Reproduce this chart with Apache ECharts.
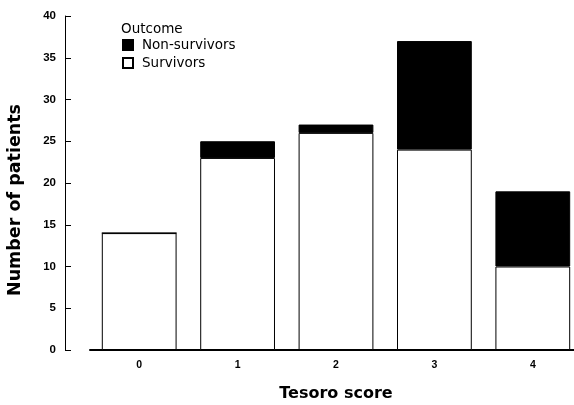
<!DOCTYPE html>
<html><head><meta charset="utf-8">
<script src="https://cdn.jsdelivr.net/npm/echarts@6/dist/echarts.min.js"></script>
<style>html,body{margin:0;padding:0;background:#fff}#c{width:574px;height:405px}</style>
</head><body><div id="c"></div>
<script>
const categories = ['0', '1', '2', '3', '4'];
const survivors = [14, 23, 26, 24, 10];
const nonSurvivors = [0, 2, 1, 13, 9];
const yTicks = { min: 0, max: 40, interval: 5 };

const chart = echarts.init(document.getElementById('c'), null, { renderer: 'canvas' });
const font = '"Liberation Sans", Arial, sans-serif';
const wide = '"DejaVu Sans", sans-serif';
chart.setOption({
  animation: false,
  backgroundColor: '#fff',
  textStyle: { fontFamily: font },
  title: {
    text: 'Outcome', left: 121, top: 22, padding: 0,
    textStyle: { fontFamily: wide, fontSize: 13.5, fontWeight: 'normal', color: '#000' }
  },
  legend: {
    orient: 'vertical', left: 122, top: 38, padding: 0,
    itemWidth: 10, itemHeight: 10, itemGap: 4,
    icon: 'rect',
    data: ['Non-survivors', 'Survivors'],
    textStyle: { fontFamily: wide, fontSize: 13.5, color: '#000', padding: [0, 0, 0, 4] }
  },
  grid: { left: 90, width: 492, top: 16, bottom: 55, containLabel: false, outerBoundsMode: 'none' },
  xAxis: {
    type: 'category', data: categories, boundaryGap: true,
    name: 'Tesoro score', nameLocation: 'middle', nameGap: 36,
    nameTextStyle: { fontFamily: wide, fontSize: 16, fontWeight: 'bold', color: '#000' },
    axisLine: { lineStyle: { color: '#000', width: 2 } },
    axisTick: { show: false },
    axisLabel: { fontFamily: font, fontSize: 10.5, fontWeight: 'bold', color: '#000', margin: 10 }
  },
  yAxis: {
    type: 'value', min: yTicks.min, max: yTicks.max, interval: yTicks.interval,
    offset: 25,
    name: 'Number of patients', nameLocation: 'middle', nameGap: 41,
    nameTextStyle: { fontFamily: wide, fontSize: 17.5, fontWeight: 'bold', color: '#000', padding: [0, 0, 0, -34] },
    axisLine: { show: true, lineStyle: { color: '#000', width: 1 } },
    axisTick: { show: true, inside: true, length: 6, lineStyle: { color: '#000' } },
    splitLine: { show: false },
    axisLabel: { fontFamily: font, fontSize: 11.5, fontWeight: 'bold', color: '#000', margin: 9 }
  },
  series: [
    {
      name: 'Survivors', type: 'bar', stack: 'a', data: survivors,
      barWidth: '76%',
      itemStyle: { color: '#fff', borderColor: '#000', borderWidth: 1 }
    },
    {
      name: 'Non-survivors', type: 'bar', stack: 'a', data: nonSurvivors,
      barWidth: '76%',
      itemStyle: { color: '#000', borderColor: '#000', borderWidth: 1 }
    }
  ]
});
</script></body></html>
